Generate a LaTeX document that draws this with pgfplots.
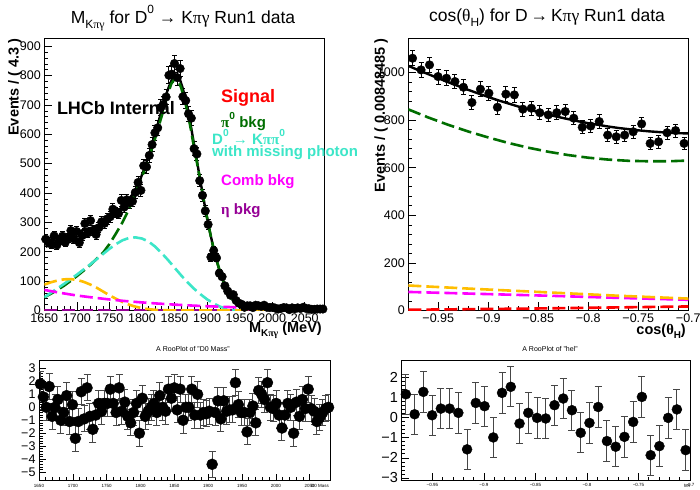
\documentclass[border=0pt]{standalone}
\usepackage{graphicx}
\usepackage{pgfplots}
\usepackage{pgfplotstable}
\pgfplotsset{compat=1.18}
\usepackage{fontspec}
\setmainfont{Liberation Sans}
\newfontfamily\symb{Liberation Serif}
\definecolor{rgreen}{RGB}{0,110,0}
\definecolor{rcyan}{RGB}{60,230,200}
\definecolor{rorange}{RGB}{255,190,0}
\definecolor{rmag}{RGB}{255,0,255}
\definecolor{rpurple}{RGB}{150,0,150}
\definecolor{ebar}{RGB}{70,70,70}
\newcommand{\fs}[1]{\fontsize{#1}{#1}\selectfont}
\newcommand{\sub}[1]{\raisebox{-0.3em}{\scalebox{0.68}{#1}}}
\newcommand{\sups}[1]{\raisebox{0.55em}{\scalebox{0.68}{#1}}}
\newcommand{\gr}[1]{{\symb #1}}
\pgfplotsset{
  rootax/.style={
    scale only axis, anchor=south west,
    axis line style={line width=0.8pt},
    tick align=inside, xtick pos=bottom, ytick pos=left,
    every tick/.style={black, line width=0.6pt},
    scaled ticks=false,
    /pgf/number format/1000 sep={},
    /pgf/number format/assume math mode=true,
  },
  dcurve/.style={line width=2.6pt, dash pattern=on 13pt off 5pt, no markers},
}
\pgfplotstableread{
x d e p f
1652.15 243 15.6 1.8 217
1656.45 233 15.3 0.8 221
1660.75 226 15.0 0.0 226
1665.05 254 15.9 1.6 230
1669.35 223 14.9 -0.7 234
1673.65 239 15.5 0.0 239
1677.95 253 15.9 0.6 244
1682.25 232 15.2 -1.0 248
1686.55 247 15.7 -0.4 253
1690.85 272 16.5 0.9 258
1695.15 244 15.6 -1.1 262
1699.45 269 16.4 0.2 266
1703.75 231 15.2 -2.4 270
1708.05 255 16.0 -1.1 273
1712.35 296 17.2 1.2 276
1716.65 264 16.2 -0.9 279
1720.95 306 17.5 1.5 281
1725.25 272 16.5 -0.7 284
1729.55 259 16.1 -1.7 288
1733.85 282 16.8 -0.6 292
1738.15 302 17.4 0.3 297
1742.45 297 17.2 -0.3 302
1746.75 312 17.7 0.3 307
1751.05 319 17.9 0.3 314
1755.35 345 18.6 1.4 320
1759.65 334 18.3 0.3 329
1763.95 330 18.2 -0.4 337
1768.25 375 19.4 1.5 347
1772.55 352 18.8 -0.3 358
1776.85 377 19.4 0.4 369
1781.15 367 19.2 -0.7 381
1785.45 372 19.3 -1.2 396
1789.75 402 20.0 -0.4 410
1794.05 436 20.9 0.3 430
1798.35 409 20.2 -2.0 452
1802.65 493 22.2 0.7 478
1806.95 489 22.1 -0.7 505
1811.25 528 23.0 -0.3 535
1815.55 565 23.8 0.0 565
1819.85 605 24.6 0.3 598
1824.15 622 24.9 -0.4 632
1828.45 691 26.3 0.9 668
1832.75 702 26.5 0.0 702
1837.05 727 27.0 -0.3 735
1841.35 801 28.3 1.4 762
1845.65 805 28.4 0.7 785
1849.95 841 29.0 1.5 799
1854.25 793 28.2 -0.2 799
1858.55 824 28.7 1.4 785
1862.85 728 27.0 -1.0 755
1867.15 715 26.7 0.0 715
1871.45 670 25.9 0.0 670
1875.75 655 25.6 1.4 620
1880.05 551 23.5 -0.6 565
1884.35 533 23.1 1.0 510
1888.65 442 21.0 -0.6 455
1892.95 392 19.8 -0.4 400
1897.25 339 18.4 -0.5 348
1901.55 293 17.1 -0.3 298
1905.85 182 13.5 -4.4 252
1910.15 204 14.3 -0.4 210
1914.45 179 13.4 0.5 172
1918.75 127 11.3 -0.9 138
1923.05 115 10.7 0.5 110
1927.35 84 9.2 -0.3 87
1931.65 66 8.1 -0.2 68
1935.95 52 7.2 -0.2 53
1940.25 54 7.3 1.9 42
1944.55 34 5.8 0.2 33
1948.85 25 5.0 -0.4 27
1953.15 21 4.6 -0.4 22.5
1957.45 11 3.3 -1.9 19.5
1961.75 16 4.0 -0.4 17.2
1966.05 16 4.0 0.1 15.6
1970.35 10 3.2 -1.2 14.5
1974.65 18 4.2 1.3 13.5
1978.95 16 4.0 1.0 12.8
1983.25 14 3.7 0.6 12.2
1987.55 18 4.2 1.9 11.6
1991.85 11 3.3 0.0 11.1
1996.15 10 3.2 -0.1 10.7
2000.45 11 3.3 0.3 10.3
2004.75 8 2.8 -0.6 10.0
2009.05 5 2.2 -1.6 9.6
2013.35 7 2.6 -0.6 9.3
2017.65 10 3.2 0.3 9.0
2021.95 9 3.0 0.0 8.7
2026.25 3 1.7 -2.0 8.4
2030.55 9 3.0 0.4 8.1
2034.85 6 2.4 -0.7 7.9
2039.15 9 3.0 0.6 7.6
2043.45 7 2.6 -0.1 7.3
2047.75 11 3.3 1.4 7.1
2052.05 7 2.6 -0.1 6.8
2056.35 6 2.4 -0.3 6.6
2060.65 4 2.0 -1.1 6.3
2064.95 4 2.0 -0.8 6.1
2069.25 5 2.2 -0.4 5.9
2073.55 5 2.2 -0.1 5.6
2077.85 5 2.2 0.0 5.4
}\tl
\pgfplotstableread{
x d e p
-0.97576 1060 32.6 1.15
-0.96727 1011 31.8 0.16
-0.95879 1032 32.1 1.27
-0.95030 983 31.4 0.11
-0.94182 976 31.2 0.44
-0.93333 962 31.0 0.44
-0.92485 938 30.6 0.23
-0.91636 874 29.6 -1.58
-0.90788 930 30.5 0.72
-0.89939 913 30.2 0.56
-0.89091 854 29.2 -0.99
-0.88242 909 30.1 1.22
-0.87394 906 30.1 1.52
-0.86545 846 29.1 -0.30
-0.85697 850 29.2 0.23
-0.84848 831 28.8 -0.02
-0.84000 822 28.7 -0.05
-0.83152 831 28.8 0.61
-0.82303 836 28.9 0.94
-0.81455 808 28.4 0.36
-0.80606 770 27.7 -0.76
-0.79758 775 27.8 -0.27
-0.78909 794 28.2 0.52
-0.78061 737 27.1 -1.17
-0.77212 730 27.0 -1.45
-0.76364 737 27.1 -0.96
-0.75515 751 27.4 -0.22
-0.74667 784 28.0 1.02
-0.73818 702 26.5 -1.87
-0.72970 709 26.6 -1.42
-0.72121 747 27.3 -0.02
-0.71273 756 27.5 0.40
-0.70424 702 26.5 -1.62
}\tr
\begin{document}
\begin{tikzpicture}[x=1pt,y=1pt]
\path[use as bounding box, fill=white] (0,0) rectangle (700,489);
% ---------------- top left
\begin{axis}[rootax, at={(44.3pt,178.5pt)}, width=280pt, height=272.5pt,
  xmin=1650, xmax=2080, ymin=0, ymax=928,
  xtick={1650,1700,...,2050}, ytick={0,100,...,900},
  minor x tick num=4, minor y tick num=4,
  major tick length=8pt, minor tick length=4pt,
  ticklabel style={font=\fs{12.5}}]
\addplot[red, dcurve] coordinates {(1650,1.5)(2080,1.5)};
\addplot[rpurple, dcurve] coordinates {(1650,0.8)(2080,0.8)};
\addplot[black, line width=2.4pt, no markers] table[x=x,y=f]{\tl};
\addplot[only marks, mark=*, mark size=4.3pt, black,
  error bars/.cd, y dir=both, y explicit,
  error bar style={line width=1pt, black},
  error mark options={rotate=90, line width=1pt, mark size=2.5pt, black}]
  table[x=x,y=d,y error=e]{\tl};
\addplot[rgreen, dcurve] coordinates {(1650,45)(1660,57)(1670,70)(1680,84)(1690,100)(1700,117)(1710,135)(1720,154)(1730,175)(1740,196)(1750,226)(1760,262)(1770,300)(1780,345)(1790,400)(1800,455)(1810,515)(1820,585)(1830,660)(1840,740)(1845,772)(1850,788)(1855,785)(1860,760)(1865,722)(1870,675)(1875,618)(1880,555)(1885,497)(1890,438)(1895,372)(1900,315)(1905,260)(1910,210)(1915,168)(1920,132)(1925,98)(1930,70)(1935,50)(1940,35)(1950,17)(1960,8)(1970,3.5)(1980,1.5)(2000,0.3)(2080,0)};
\addplot[rcyan, dcurve] coordinates {(1650,45)(1660,60)(1670,75)(1680,90)(1690,106)(1700,122)(1710,139)(1720,156)(1730,174)(1740,192)(1750,210)(1760,226)(1770,239)(1780,247)(1790,249)(1800,245)(1810,235)(1820,218)(1830,196)(1840,172)(1850,146)(1860,120)(1870,96)(1880,74)(1890,55)(1900,38)(1910,24)(1920,13)(1930,6)(1940,2)(1950,0.5)(1960,0)(2080,0)};
\addplot[rorange, dcurve] coordinates {(1650,88)(1660,96)(1670,102)(1680,106)(1690,107)(1700,104)(1710,98)(1720,89)(1730,78)(1740,65)(1750,52)(1760,40)(1770,29)(1780,20)(1790,13)(1800,8)(1810,4.5)(1820,2.5)(1830,1.2)(1850,0.3)(1880,0)(2080,0)};
\addplot[rmag, dcurve] coordinates {(1650,70)(1675,60)(1700,51)(1725,44)(1750,37.5)(1775,32)(1800,27.5)(1825,23.5)(1850,20)(1875,17)(1900,14.5)(1950,10.5)(2000,7.7)(2050,5.6)(2080,4.6)};
\end{axis}
% ---------------- top right
\begin{axis}[rootax, at={(408.3pt,178.5pt)}, width=280pt, height=272.5pt,
  xmin=-0.98, xmax=-0.7, ymin=0, ymax=1145,
  xtick={-0.95,-0.9,-0.85,-0.8,-0.75,-0.7},
  xticklabels={−0.95,−0.9,−0.85,−0.8,−0.75,−0.7},
  ytick={0,200,...,1000},
  minor x tick num=4, minor y tick num=4,
  major tick length=8pt, minor tick length=4pt,
  ticklabel style={font=\fs{12.5}}]
\addplot[red, dcurve] coordinates {(-0.98,3)(-0.84,9)(-0.7,17)};
\addplot[rmag, dcurve] coordinates {(-0.98,78)(-0.91,70)(-0.84,62)(-0.77,53)(-0.7,45)};
\addplot[rorange, dcurve] coordinates {(-0.98,105)(-0.91,90)(-0.84,76)(-0.77,62)(-0.7,50)};
\addplot[black, line width=2.4pt, no markers] coordinates {(-0.98,1028)(-0.97,1010)(-0.96,993)(-0.95,976)(-0.94,959)(-0.93,943)(-0.92,927)(-0.91,912)(-0.90,897)(-0.89,883)(-0.88,870)(-0.87,857)(-0.86,845)(-0.85,834)(-0.84,823)(-0.83,813)(-0.82,804)(-0.81,795)(-0.80,787)(-0.79,780)(-0.78,773)(-0.77,767)(-0.76,762)(-0.75,757)(-0.74,753)(-0.73,750)(-0.72,747)(-0.71,745)(-0.70,744)};
\addplot[only marks, mark=*, mark size=4.3pt, black,
  error bars/.cd, y dir=both, y explicit,
  error bar style={line width=1pt, black},
  error mark options={rotate=90, line width=1pt, mark size=2.5pt, black}]
  table[x=x,y=d,y error=e]{\tr};
\addplot[rgreen, dcurve] coordinates {(-0.98,845)(-0.96,811)(-0.94,780)(-0.92,752)(-0.90,727)(-0.88,704)(-0.86,684)(-0.84,667)(-0.82,653)(-0.80,642)(-0.78,634)(-0.76,629)(-0.74,627)(-0.72,627)(-0.70,630)};
\end{axis}
% ---------------- bottom left
\begin{axis}[rootax, at={(39pt,8.5pt)}, width=291pt, height=120.5pt,
  xmin=1650, xmax=2080, ymin=-5.65, ymax=3.65,
  xtick={1650,1700,...,2050}, xticklabel style={font=\fs{4.5}},
  ytick={-5,-4,-3,-2,-1,0,1,2,3},
  yticklabels={−5,−4,−3,−2,−1,0,1,2,3},
  yticklabel style={font=\fs{12.5}},
  minor x tick num=4, minor y tick num=4,
  major tick length=7pt, minor tick length=3.5pt]
\addplot[only marks, mark=*, mark size=5.5pt, black,
  error bars/.cd, y dir=both, y fixed=1,
  error bar style={line width=1pt, ebar},
  error mark options={rotate=90, line width=1pt, mark size=3.5pt, ebar}]
  table[x=x,y=p]{\tl};
\end{axis}
% ---------------- bottom right
\begin{axis}[rootax, at={(401.5pt,9pt)}, width=288.5pt, height=120pt,
  xmin=-0.98, xmax=-0.7, ymin=-3.1, ymax=2.85,
  xtick={-0.95,-0.9,-0.85,-0.8,-0.75,-0.7},
  xticklabels={−0.95,−0.9,−0.85,−0.8,−0.75,−0.7},
  xticklabel style={font=\fs{4.5}},
  ytick={-3,-2,-1,0,1,2},
  yticklabels={−3,−2,−1,0,1,2},
  yticklabel style={font=\fs{14.5}},
  minor x tick num=4, minor y tick num=4,
  major tick length=7pt, minor tick length=3.5pt]
\addplot[only marks, mark=*, mark size=5pt, black,
  error bars/.cd, y dir=both, y fixed=1,
  error bar style={line width=1pt, ebar},
  error mark options={rotate=90, line width=1pt, mark size=3.5pt, ebar}]
  table[x=x,y=p]{\tr};
\end{axis}
% ---------------- texts
\node[font=\fs{17.5}] at (183,471) {M\sub{K\gr{πγ}} for D\sups{0} \gr{→} K\gr{πγ} Run1 data};
\node[font=\fs{17.5}] at (547,471) {cos(\gr{θ}\sub{H}) for D\,\gr{→}\,K\gr{πγ} Run1 data};
\node[rotate=90, anchor=east, inner sep=0pt, font=\bfseries\fs{14.5}] at (15,451) {Events / ( 4.3 )};
\node[rotate=90, anchor=east, inner sep=0pt, font=\bfseries\fs{14.5}] at (381,451) {Events / ( 0.00848485 )};
\node[anchor=east, inner sep=0pt, font=\bfseries\fs{14.5}] at (322,159) {M\sub{K\gr{πγ}} (MeV)};
\node[anchor=east, inner sep=0pt, font=\bfseries\fs{14.5}] at (686,158) {cos(\gr{θ}\sub{H})};
\node[font=\bfseries\fs{18}] at (116,381) {LHCb Internal};
\begin{scope}
\clip (0,0) rectangle (360,489);
\node[anchor=west, inner sep=0pt, text=red, font=\bfseries\fs{18}] at (221,390.7) {Signal};
\node[anchor=west, inner sep=0pt, text=rgreen, font=\bfseries\fs{15}] at (221,367.3) {\gr{π}\sups{0} bkg};
\node[anchor=west, inner sep=0pt, text=rcyan, font=\bfseries\fs{15}] at (212,352.3) {D\sups{0} \gr{→} K\gr{ππ}\sups{0}};
\node[anchor=west, inner sep=0pt, text=rcyan, font=\bfseries\fs{15}] at (212,336.3) {with missing photon};
\node[anchor=west, inner sep=0pt, text=rmag, font=\bfseries\fs{15}] at (221,307.3) {Comb bkg};
\node[anchor=west, inner sep=0pt, text=rpurple, font=\bfseries\fs{15}] at (221,278.3) {\gr{η} bkg};
\end{scope}
\node[font=\fs{7}] at (193,140) {A RooPlot of "D0 Mass"};
\node[font=\fs{7}] at (550,140) {A RooPlot of "hel"};
\node[anchor=east, inner sep=0pt, font=\fs{4.5}] at (329,3) {D0 Mass};
\node[anchor=east, inner sep=0pt, font=\fs{4.5}] at (690,3) {hel};
\end{tikzpicture}
\end{document}
